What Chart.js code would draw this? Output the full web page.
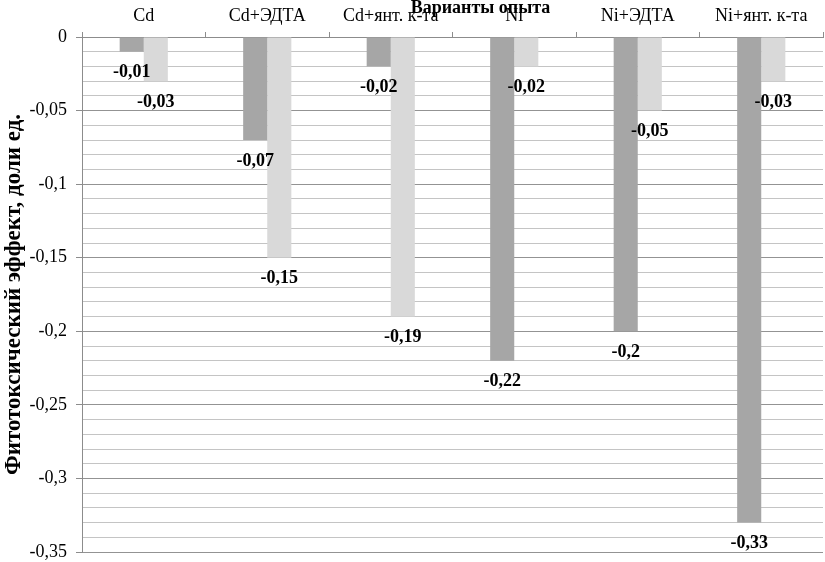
<!DOCTYPE html>
<html>
<head>
<meta charset="utf-8">
<script src="https://cdn.jsdelivr.net/npm/chart.js@4/dist/chart.umd.min.js"></script>
<style>
  html, body { margin: 0; padding: 0; background: #fff; }
  #wrap { width: 825px; height: 562px; }
</style>
</head>
<body>
<div id="wrap"><canvas id="chart"></canvas></div>
<script>
// data
const categories = ['Cd', 'Cd+ЭДТА', 'Cd+янт. к-та', 'Ni', 'Ni+ЭДТА', 'Ni+янт. к-та'];
const series1 = [-0.01, -0.07, -0.02, -0.22, -0.2, -0.33];
const series2 = [-0.03, -0.15, -0.19, -0.02, -0.05, -0.03];
const axisTitle = 'Варианты опыта';
const yTitle = 'Фитотоксический эффект, доли ед.';

const serif = '"Liberation Serif", "Times New Roman", serif';

function fmt(v) {
  const r = Math.round(v * 100) / 100;
  return String(r).replace('.', ',');
}

function isMajor(v) {
  return Math.round(v * 100) % 5 === 0;
}

// value labels under the bar ends + the overlapping axis title
const labelsPlugin = {
  id: 'valueLabels',
  afterDatasetsDraw(chart) {
    const ctx = chart.ctx;
    ctx.save();
    ctx.font = 'bold 18px ' + serif;
    ctx.fillStyle = '#000';
    ctx.textAlign = 'center';
    ctx.textBaseline = 'middle';
    chart.data.datasets.forEach((ds, i) => {
      chart.getDatasetMeta(i).data.forEach((bar, j) => {
        ctx.fillText(fmt(ds.data[j]), bar.x, bar.y + 21);
      });
    });
    const area = chart.chartArea;
    ctx.fillText(axisTitle, (area.left + area.right) / 2 + 28, 8);
    ctx.restore();
  }
};

new Chart(document.getElementById('chart').getContext('2d'), {
  type: 'bar',
  data: {
    labels: categories,
    datasets: [
      { data: series1, backgroundColor: '#a6a6a6', barPercentage: 1, categoryPercentage: 0.39 },
      { data: series2, backgroundColor: '#d9d9d9', barPercentage: 1, categoryPercentage: 0.39 }
    ]
  },
  options: {
    responsive: true,
    maintainAspectRatio: false,
    animation: false,
    layout: { padding: { right: 2, bottom: 10 } },
    plugins: {
      legend: { display: false },
      tooltip: { enabled: false }
    },
    scales: {
      x: {
        position: 'top',
        afterFit(scale) { scale.height = 37; },
        grid: { drawOnChartArea: false, offset: true, tickLength: 5, color: '#8c8c8c' },
        border: { color: '#8c8c8c' },
        ticks: { color: '#000', font: { family: serif, size: 18 }, padding: 5, maxRotation: 0 }
      },
      y: {
        min: -0.35,
        max: 0,
        afterFit(scale) {
          scale.width = 82;
          scale.paddingBottom = 0;
          scale.paddingTop = 0;
        },
        title: {
          display: true,
          text: yTitle,
          color: '#000',
          font: { family: serif, size: 23, weight: 'bold' },
          padding: { top: 0, bottom: 0 }
        },
        ticks: {
          stepSize: 0.01,
          autoSkip: false,
          color: '#000',
          font: { family: serif, size: 18 },
          padding: 9,
          callback(v) { return isMajor(v) ? fmt(v) : ''; }
        },
        grid: {
          color(c) { return isMajor(c.tick.value) ? '#939393' : '#c4c4c4'; },
          tickColor(c) { return isMajor(c.tick.value) ? '#8c8c8c' : 'rgba(0,0,0,0)'; },
          tickLength: 6,
          lineWidth: 1
        },
        border: { color: '#8c8c8c' }
      }
    }
  },
  plugins: [labelsPlugin]
});
</script>
</body>
</html>
